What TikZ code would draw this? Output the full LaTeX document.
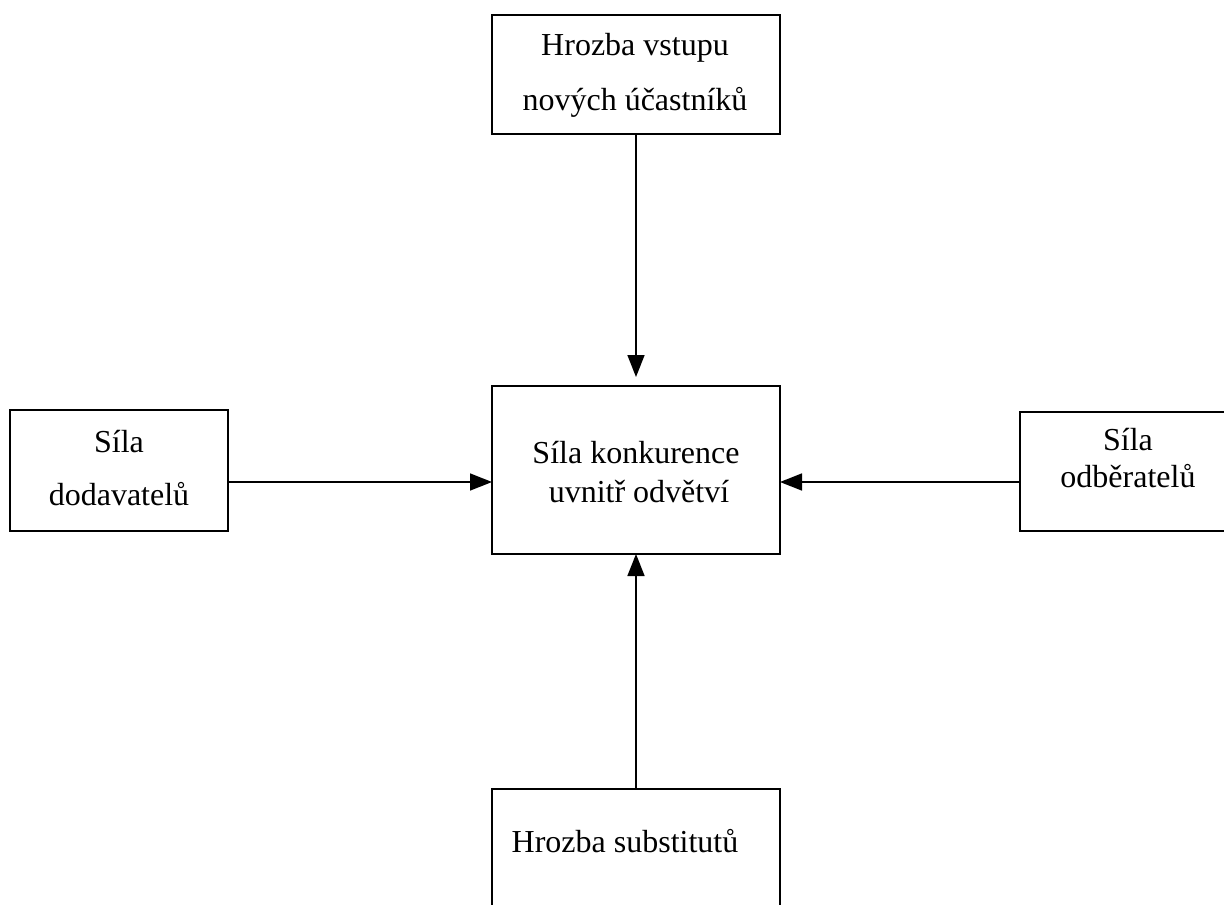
\documentclass[tikz,border=0pt]{standalone}
\usepackage{fontspec}
\setmainfont{Liberation Serif}
\usetikzlibrary{arrows.meta}
\begin{document}
\begin{tikzpicture}[x=1pt,y=-1pt,
  box/.style={draw=black,line width=1.6pt,fill=none,inner sep=0pt,outer sep=0pt},
  lbl/.style={font=\fontsize{32}{38}\selectfont,anchor=base,inner sep=0pt},
  arr/.style={line width=1.6pt,-{Triangle[length=22pt,width=17pt]}}]
\useasboundingbox (0,0) rectangle (1224,905);
\clip (0,0) rectangle (1224,905);
% boxes
\node[box,minimum width=288pt,minimum height=119pt] (top) at (636,74.5) {};
\node[box,minimum width=288pt,minimum height=168pt] (ctr) at (636,470) {};
\node[box,minimum width=218pt,minimum height=121pt] (left) at (119,470.5) {};
\node[box,minimum width=216pt,minimum height=119pt] (right) at (1128,471.5) {};
\node[box,minimum width=288pt,minimum height=140pt] (bot) at (636,859) {};
% texts
\node[lbl] (t1) at (635,55) {Hrozba vstupu};
\node[lbl] (t2) at (635,110) {nových účastníků};
\node[lbl] (c1) at (636,463) {Síla konkurence};
\node[lbl] (c2) at (639,502) {uvnitř odvětví};
\node[lbl] (l1) at (119,452) {Síla};
\node[lbl] (l2) at (119,505) {dodavatelů};
\node[lbl] (r1) at (1128,450) {Síla};
\node[lbl] (r2) at (1128,487) {odběratelů};
\node[lbl] (b1) at (625,852) {Hrozba substitutů};
% connectors
\coordinate (ay) at (0,482);
\draw[arr,shorten >=9pt] (top.south) -- (ctr.north);
\draw[arr] (left.east |- ay) -- (ctr.west |- ay);
\draw[arr] (right.west |- ay) -- (ctr.east |- ay);
\draw[arr] (bot.north) -- (ctr.south);
\end{tikzpicture}
\end{document}
